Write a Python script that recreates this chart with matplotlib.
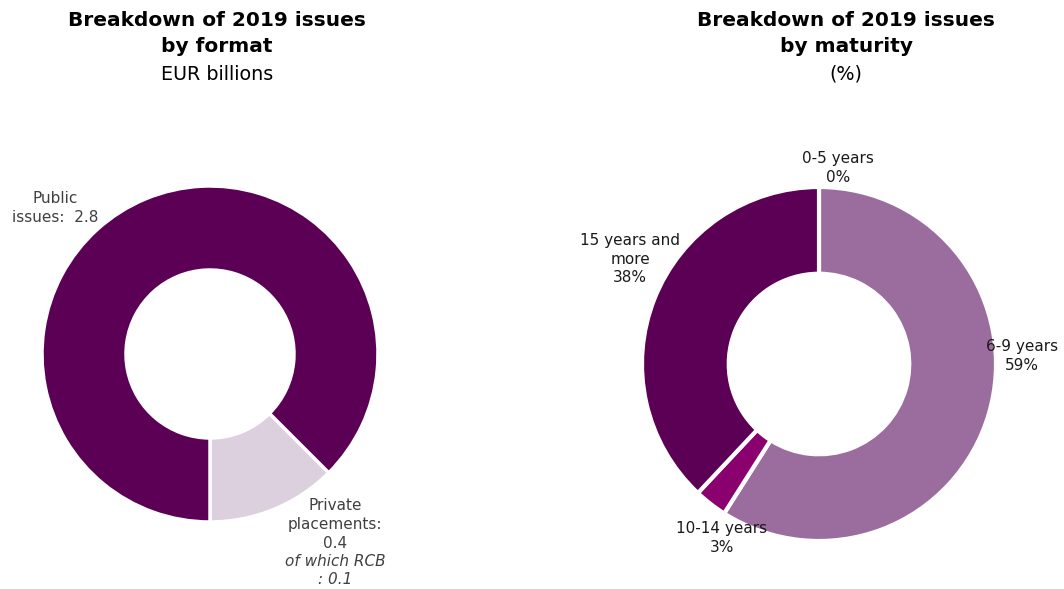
import matplotlib
matplotlib.use("Agg")
import matplotlib.pyplot as plt

plt.rcParams['font.family'] = ['DejaVu Sans']

# Data
format_labels = ["Private placements", "Public issues"]
format_values = [0.4, 2.8]
format_colors = ["#ddd0de", "#5c0055"]

maturity_labels = ["0-5 years", "6-9 years", "10-14 years", "15 years and more"]
maturity_values = [0, 59, 3, 38]
maturity_colors = ["#c9a9c9", "#9b6c9e", "#8a006f", "#5c0055"]

W, H = 1064, 589
fig = plt.figure(figsize=(W / 100, H / 100), dpi=100)

def px_axes(cx, cy, r):
    return fig.add_axes([(cx - r) / W, (H - cy - r) / H, 2 * r / W, 2 * r / H])

def ftext(x, y, s, **kw):
    fig.text(x / W, 1 - y / H, s, ha='center', va='center', **kw)

# Left donut
ax1 = px_axes(210, 354, 168)
ax1.pie(format_values, colors=format_colors, startangle=270, counterclock=True,
        radius=1.0, wedgeprops=dict(width=0.5, edgecolor='white', linewidth=2.5))
ax1.set_xlim(-1, 1); ax1.set_ylim(-1, 1)
ax1.set_aspect('auto')
ax1.axis('off')

# Right donut
ax2 = px_axes(819, 364, 177)
ax2.pie(maturity_values, colors=maturity_colors, startangle=90, counterclock=False,
        radius=1.0, wedgeprops=dict(width=0.49, edgecolor='white', linewidth=3))
ax2.set_xlim(-1, 1); ax2.set_ylim(-1, 1)
ax2.set_aspect('auto')
ax2.axis('off')

# Titles
tfs = 14.5
sfs = 13.8
ftext(217, 21, "Breakdown of 2019 issues", fontsize=tfs, fontweight='bold', color='#000000')
ftext(217, 47, "by format", fontsize=tfs, fontweight='bold', color='#000000')
ftext(217, 74, "EUR billions", fontsize=sfs, color='#000000')
ftext(846, 21, "Breakdown of 2019 issues", fontsize=tfs, fontweight='bold', color='#000000')
ftext(846, 47, "by maturity", fontsize=tfs, fontweight='bold', color='#000000')
ftext(846, 74, "(%)", fontsize=sfs, color='#000000')

# Left labels
lfs = 11
lc = '#404040'
ftext(55, 198, "Public", fontsize=lfs, color=lc)
ftext(55, 217, "issues:  %.1f" % format_values[1], fontsize=lfs, color=lc)
ftext(335, 505, "Private", fontsize=lfs, color=lc)
ftext(335, 524, "placements:", fontsize=lfs, color=lc)
ftext(335, 543, "%.1f" % format_values[0], fontsize=lfs, color=lc)
ftext(335, 562, "of which RCB", fontsize=lfs, color=lc, style='italic')
ftext(335, 580, ": 0.1", fontsize=lfs, color=lc, style='italic')

# Right labels
rc = '#1a1a1a'
ftext(838, 159, maturity_labels[0], fontsize=lfs, color=rc)
ftext(838, 177, "%d%%" % maturity_values[0], fontsize=lfs, color=rc)
ftext(1022, 347, maturity_labels[1], fontsize=lfs, color=rc)
ftext(1022, 366, "%d%%" % maturity_values[1], fontsize=lfs, color=rc)
ftext(722, 529, maturity_labels[2], fontsize=lfs, color=rc)
ftext(722, 548, "%d%%" % maturity_values[2], fontsize=lfs, color=rc)
ftext(630, 240, "15 years and", fontsize=lfs, color=rc)
ftext(630, 259, "more", fontsize=lfs, color=rc)
ftext(630, 278, "%d%%" % maturity_values[3], fontsize=lfs, color=rc)

fig.savefig("out.png", dpi=100)
